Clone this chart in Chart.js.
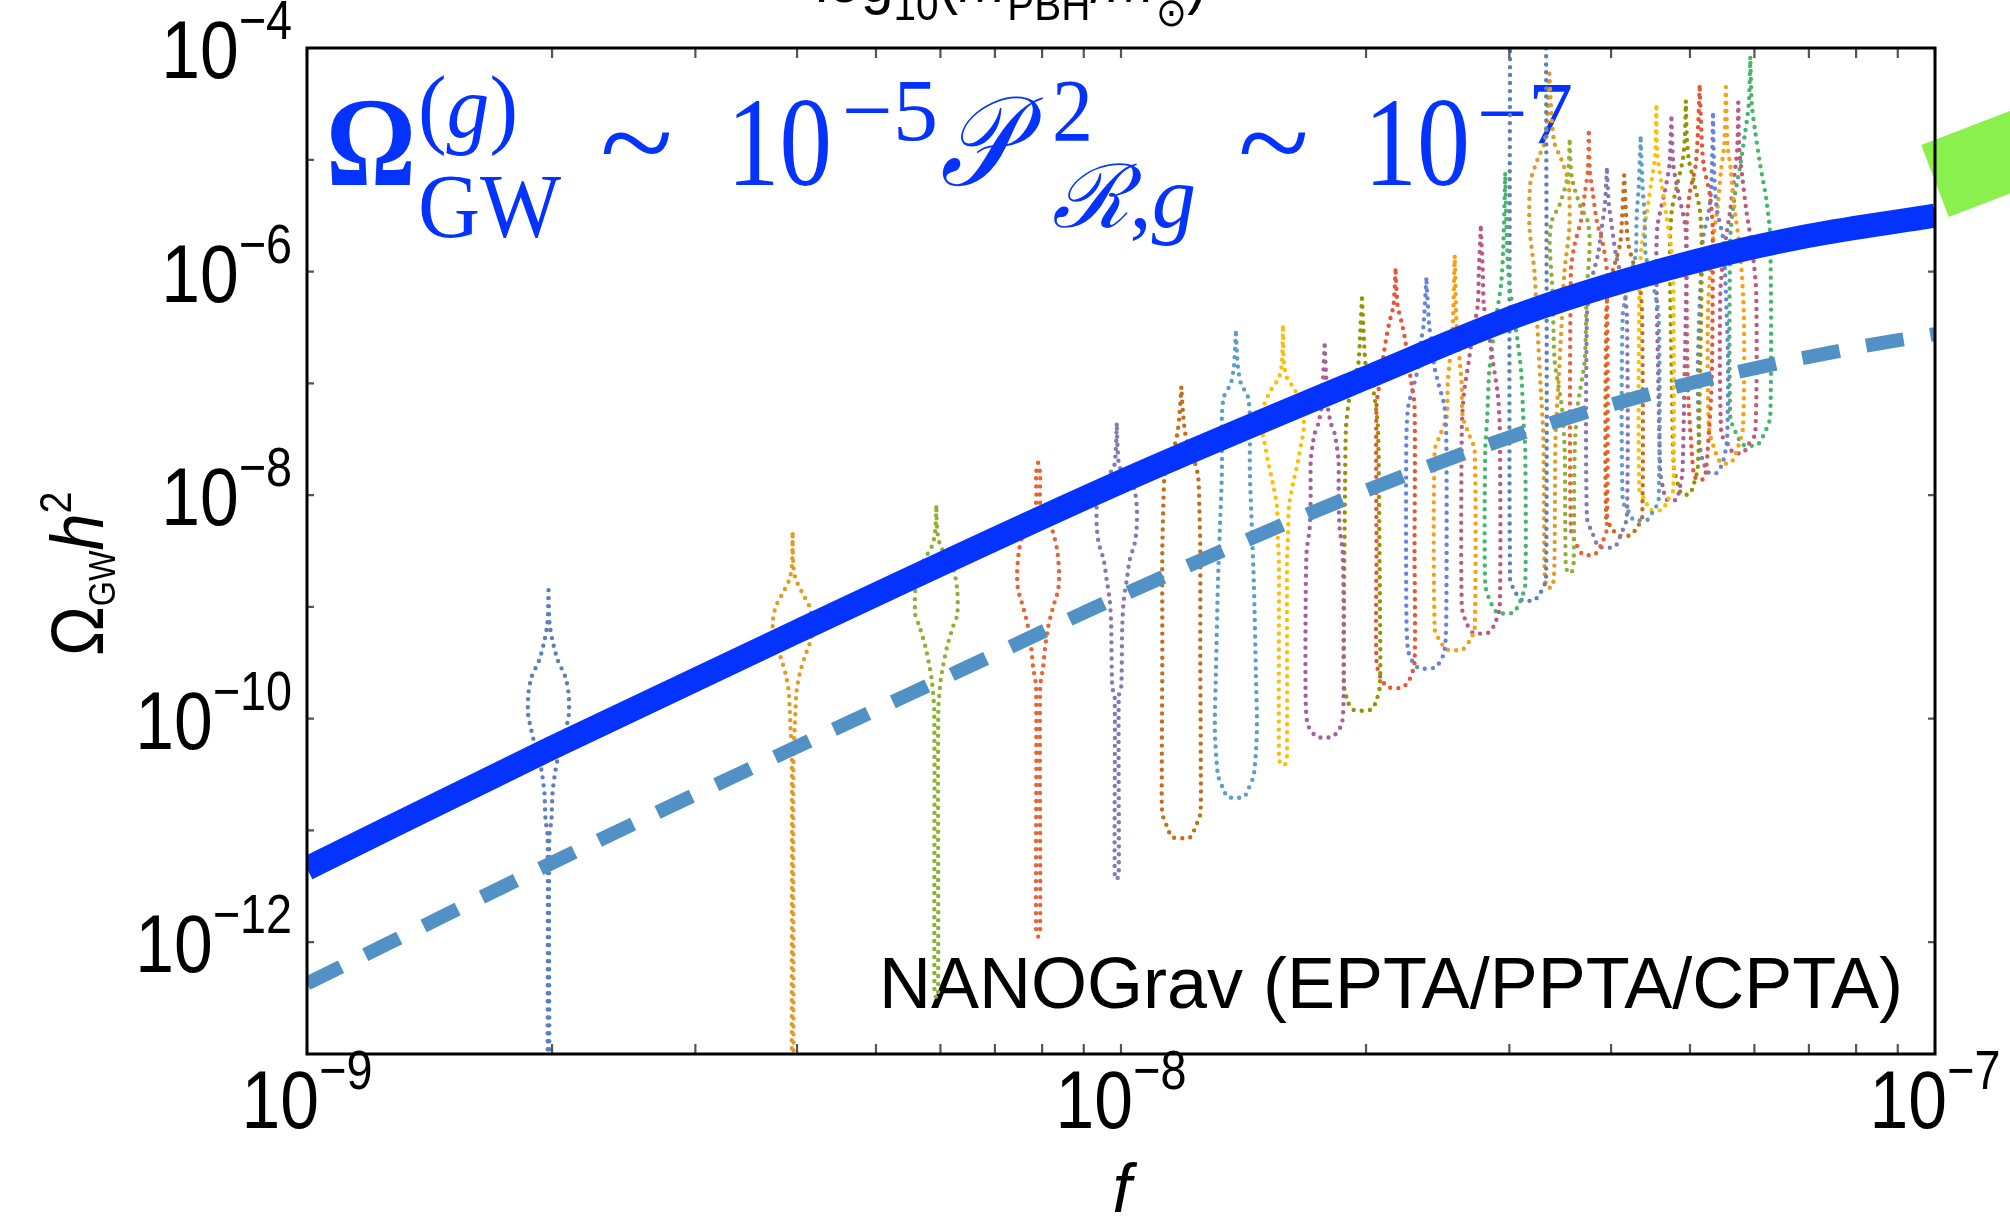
<!DOCTYPE html>
<html>
<head>
<meta charset="utf-8">
<script src="https://cdn.jsdelivr.net/npm/chart.js@4.4.0/dist/chart.umd.min.js"></script>
<style>
  html, body { margin: 0; padding: 0; background: #fff; }
  canvas { display: block; }
</style>
</head>
<body>
<canvas id="gwChart" width="2010" height="1216"></canvas>
<script>
// ---- model curves: frequency [Hz] and log10(Omega_GW h^2) ----
const curveFreqs = [1e-9, 2e-9, 4e-9, 1e-8, 2e-8, 3.16e-8, 5e-8, 7e-8, 1e-7];
const solidLogOmega = [-11.34, -10.26, -9.22, -7.88, -6.95, -6.36, -5.92, -5.68, -5.5];

const dashedFreqs = [1e-9, 2e-9, 4e-9, 6.3e-9, 1e-8, 2e-8, 3.4e-8, 5e-8, 8e-8, 1e-7];
const dashedLogOmega = [-12.37, -11.29, -10.25, -9.58, -8.9, -7.96, -7.35, -7.0, -6.68, -6.56];

// band entering from the right of the frame
const tailFreqs = [1.0e-7, 1.6e-7];
const tailLogOmega = [-5.19, -4.62];

// ---- NANOGrav free-spectrum bins ----
const binFreqs = [
  1.98e-9, 3.95e-9, 5.93e-9, 7.91e-9, 9.88e-9, 1.186e-8, 1.384e-8, 1.581e-8, 1.779e-8, 1.977e-8,
  2.174e-8, 2.372e-8, 2.570e-8, 2.767e-8, 2.965e-8, 3.163e-8, 3.360e-8, 3.558e-8, 3.756e-8, 3.953e-8,
  4.151e-8, 4.349e-8, 4.546e-8, 4.744e-8, 4.942e-8, 5.139e-8, 5.337e-8, 5.535e-8, 5.732e-8, 5.930e-8
];

// violin outline per bin: [log10 Omega, density] from top to bottom (density in arbitrary units)
const binProfiles = [
  [[-8.85,0],[-9.14,1],[-9.3,4],[-9.47,9],[-9.63,17],[-9.77,20],[-9.95,20.5],[-10.07,18],[-10.22,14],[-10.37,9],[-10.52,6],[-10.67,4],[-10.9,3],[-11.06,0.8],[-13.3,0.8],[-13.35,0]],
  [[-8.35,0],[-8.62,0.6],[-8.75,3],[-8.88,10],[-9.0,17],[-9.15,20],[-9.3,18],[-9.45,12],[-9.6,7],[-9.75,4],[-9.9,3],[-10.1,2],[-10.3,0.8],[-13.3,0.8],[-13.35,0]],
  [[-8.11,0],[-8.32,1],[-8.45,4],[-8.66,17],[-8.85,21],[-9.07,21],[-9.17,17],[-9.35,11],[-9.52,7],[-9.65,4.5],[-9.93,2],[-12.45,1.8],[-12.5,0]],
  [[-7.71,0],[-7.8,2],[-8.1,2.5],[-8.28,13],[-8.49,19],[-8.7,21],[-8.85,20],[-9.0,15],[-9.18,10],[-9.36,7],[-9.54,5],[-9.72,2],[-11.9,2],[-11.95,0]],
  [[-7.37,0],[-7.6,1],[-7.75,3],[-7.93,17],[-8.1,20],[-8.28,20],[-8.43,18],[-8.58,13],[-8.76,10],[-8.94,7],[-9.18,5.5],[-9.72,4.5],[-9.8,2],[-11.4,2],[-11.44,0]],
  [[-7.04,0],[-7.3,2],[-7.45,4],[-7.6,8],[-7.72,14],[-7.85,17],[-8.1,18],[-8.5,19],[-9.5,19],[-10.5,19.5],[-10.85,19],[-10.97,14],[-11.06,9]],
  [[-6.55,0],[-6.85,2],[-7.0,5],[-7.12,12],[-7.3,14],[-7.8,14],[-8.3,16],[-8.8,18],[-9.6,20],[-10.1,21],[-10.5,18],[-10.62,13],[-10.7,8]],
  [[-6.5,0],[-6.82,1],[-6.95,4],[-7.06,12],[-7.2,19],[-7.4,21],[-7.55,18],[-7.7,15],[-7.9,10],[-8.1,6],[-8.4,5],[-8.6,4],[-10.35,4],[-10.41,2]],
  [[-6.66,0],[-6.95,1.5],[-7.2,3],[-7.35,6],[-7.45,10],[-7.55,12],[-7.7,14],[-8.0,14],[-8.3,15],[-8.5,18],[-9.0,19],[-9.8,19],[-10.05,17],[-10.16,8]],
  [[-6.24,0],[-6.6,2],[-6.85,4],[-7.0,10],[-7.15,13],[-7.4,16],[-8.0,17],[-9.0,18],[-9.7,18],[-9.85,14],[-9.92,9]],
  [[-5.99,0],[-6.3,2],[-6.45,6],[-6.58,9],[-6.75,12],[-6.95,15],[-7.2,19],[-8.5,19],[-9.5,19],[-9.65,14],[-9.72,7]],
  [[-6.07,0],[-6.5,3],[-6.6,5],[-6.85,8],[-7.0,12],[-7.2,18],[-7.5,20],[-9.0,20],[-9.4,18],[-9.54,9]],
  [[-5.87,0],[-6.5,2],[-6.8,5],[-7.0,7],[-7.3,8],[-7.45,14],[-7.6,20],[-9.2,20],[-9.3,15],[-9.38,8]],
  [[-5.61,0],[-6.0,2],[-6.3,3],[-6.55,8],[-6.8,12],[-7.1,17],[-7.4,19],[-9.0,19],[-9.15,14],[-9.23,8]],
  [[-5.13,0],[-5.8,2],[-6.1,4],[-6.35,8],[-6.6,12],[-6.9,16],[-7.3,18],[-7.6,20],[-8.8,20],[-8.95,15],[-9.05,8]],
  [[-3.6,18],[-8.75,18],[-8.88,12],[-8.94,6]],
  [[-4.23,0],[-4.6,2],[-4.85,5],[-5.0,12],[-5.2,19],[-5.6,20],[-6.0,15],[-6.5,12],[-7.0,9],[-7.5,6],[-8.6,5],[-8.82,3]],
  [[-4.84,0],[-5.15,2],[-5.4,10],[-5.55,18],[-5.75,20],[-6.2,17],[-6.8,15],[-7.2,8],[-7.6,5],[-8.6,4],[-8.69,2]],
  [[-4.76,0],[-5.1,1],[-5.3,4],[-5.55,8],[-5.75,14],[-6.0,18],[-8.3,18],[-8.45,12],[-8.53,6]],
  [[-5.09,0],[-5.4,2],[-5.6,5],[-5.85,9],[-6.1,16],[-6.4,20],[-8.2,20],[-8.35,14],[-8.46,8]],
  [[-5.14,0],[-5.5,2],[-5.75,4],[-5.95,10],[-6.15,16],[-6.4,18],[-8.2,18],[-8.3,12],[-8.36,6]],
  [[-4.81,0],[-5.25,2],[-5.5,4],[-5.85,5],[-6.1,12],[-6.4,18],[-8.05,18],[-8.15,12],[-8.22,7]],
  [[-4.53,0],[-4.95,1],[-5.2,5],[-5.5,10],[-5.8,15],[-6.2,17],[-7.95,17],[-8.05,11],[-8.13,6]],
  [[-4.63,0],[-5.05,2],[-5.3,7],[-5.6,14],[-6.0,15],[-7.0,13],[-7.8,11],[-7.95,8],[-8.04,5]],
  [[-4.48,0],[-4.8,1],[-5.0,3],[-5.2,8],[-5.45,14],[-5.8,16],[-7.0,14],[-7.75,12],[-7.9,8],[-7.99,4]],
  [[-4.35,0],[-4.8,2],[-5.05,4],[-5.3,10],[-5.6,13],[-7.0,12],[-7.6,8],[-7.8,6],[-7.86,3]],
  [[-4.6,0],[-5.2,1.5],[-5.45,4],[-5.7,10],[-6.0,12],[-6.8,15],[-7.5,14],[-7.7,10],[-7.8,4]],
  [[-4.35,0],[-4.85,1.5],[-5.1,5],[-5.4,8],[-5.8,14],[-6.4,18],[-7.4,17],[-7.6,11],[-7.71,5]],
  [[-4.49,0],[-4.9,1],[-5.15,4],[-5.45,8],[-5.8,14],[-6.2,18],[-7.45,17],[-7.55,10],[-7.62,5]],
  [[-4.09,0],[-4.5,1.5],[-4.75,5],[-5.05,10],[-5.35,16],[-5.7,20],[-7.3,20],[-7.45,14],[-7.55,7]]
];

// ---- axis ticks ----
const xMajorTicks = [1e-9, 1e-8, 1e-7];
const xMinorTicks = [2e-9, 3e-9, 4e-9, 5e-9, 6e-9, 7e-9, 8e-9, 9e-9, 2e-8, 3e-8, 4e-8, 5e-8, 6e-8, 7e-8, 8e-8, 9e-8];
const xLabelExps = [-9, -8, -7];
const yDecadeTicks = [1e-13, 1e-12, 1e-11, 1e-10, 1e-9, 1e-8, 1e-7, 1e-6, 1e-5, 1e-4];
const yLabelExps = [-12, -10, -8, -6, -4];

// ---- styling ----
const palette = ['#5e81b5', '#e19c24', '#8fb032', '#eb6235', '#8778b3', '#c56e1a', '#5d9ec7', '#ffbf00',
                 '#a5609d', '#929600', '#e95536', '#6685d9', '#f89f13', '#bc5b80', '#47b66d'];
const BLUE = '#0433ff';
const SANS = "'Liberation Sans', Arial, sans-serif";
const SERIF = "'Liberation Serif', 'Times New Roman', serif";
const VIOLIN_DEX = 1 / 814;   // half-width in decades of f per density unit

const pts = (fs, ls) => fs.map((f, i) => ({ x: f, y: Math.pow(10, ls[i]) }));

function violinOutline(freq, profile) {
  const side = sgn => ([l, d]) => ({ x: freq * Math.pow(10, sgn * d * VIOLIN_DEX), y: Math.pow(10, l) });
  return profile.map(side(-1)).concat(profile.slice().reverse().map(side(1)));
}

const datasets = [
  {
    data: pts(curveFreqs, solidLogOmega),
    showLine: true, borderColor: BLUE, borderWidth: 24, pointRadius: 0,
    cubicInterpolationMode: 'monotone', borderCapStyle: 'butt', order: 0
  },
  {
    data: pts(dashedFreqs, dashedLogOmega),
    showLine: true, borderColor: '#5291c5', borderWidth: 14, pointRadius: 0,
    borderDash: [38, 27], cubicInterpolationMode: 'monotone', borderCapStyle: 'butt', order: 1
  },
  {
    data: pts(tailFreqs, tailLogOmega),
    showLine: true, borderColor: '#89f04d', borderWidth: 77, pointRadius: 0,
    borderCapStyle: 'butt', clip: false, order: 0
  }
];

binFreqs.forEach((f, i) => {
  datasets.push({
    data: violinOutline(f, binProfiles[i]),
    showLine: true, borderColor: palette[i % palette.length], borderWidth: 4.4,
    borderDash: [0, 8], borderCapStyle: 'round', pointRadius: 0, tension: 0.25,
    order: 2
  });
});

// text runs: [{t, size, style, dy}] drawn in sequence, squeezed horizontally by sx
function runWidth(ctx, parts, family) {
  return parts.reduce((w, p) => {
    ctx.font = (p.style || '') + ' ' + p.size + 'px ' + (p.family || family);
    return w + ctx.measureText(p.t).width;
  }, 0);
}

function drawRun(ctx, x, y, parts, family, sx, align) {
  const w = runWidth(ctx, parts, family) * sx;
  let cx = align === 'right' ? x - w : align === 'center' ? x - w / 2 : x;
  parts.forEach(p => {
    ctx.font = (p.style || '') + ' ' + p.size + 'px ' + (p.family || family);
    ctx.save();
    ctx.translate(cx, y + (p.dy || 0));
    ctx.scale(sx, 1);
    ctx.fillText(p.t, 0, 0);
    ctx.restore();
    cx += ctx.measureText(p.t).width * sx;
  });
}

// fit a run between x0 and x1
function fitRun(ctx, x0, x1, y, parts, family) {
  const sx = (x1 - x0) / runWidth(ctx, parts, family);
  drawRun(ctx, x0, y, parts, family, sx, 'left');
}

const annotation = {
  id: 'annotation',
  beforeDatasetsDraw(chart) {
    const ctx = chart.ctx;
    ctx.save();
    ctx.fillStyle = BLUE;
    ctx.textBaseline = 'alphabetic';
    fitRun(ctx, 326, 416, 185, [{ t: 'Ω', size: 126, style: 'bold' }], SERIF);
    fitRun(ctx, 418, 518, 137, [{ t: '(', size: 88 }, { t: 'g', size: 88, style: 'italic' }, { t: ')', size: 88 }], SERIF);
    fitRun(ctx, 418, 561, 237, [{ t: 'GW', size: 90 }], SERIF);
    fitRun(ctx, 600, 673, 185, [{ t: '~', size: 126 }], SERIF);
    fitRun(ctx, 727, 832, 185, [{ t: '10', size: 126 }], SERIF);
    fitRun(ctx, 842, 938, 140, [{ t: '−5', size: 88 }], SERIF);
    fitRun(ctx, 940, 1016, 185, [{ t: '𝒫', size: 126, style: 'italic' }], SERIF);
    fitRun(ctx, 1052, 1093, 140, [{ t: '2', size: 88 }], SERIF);
    fitRun(ctx, 1052, 1196, 227, [{ t: 'ℛ', size: 88, style: 'italic' }, { t: ',', size: 88 }, { t: 'g', size: 88, style: 'italic' }], SERIF);
    fitRun(ctx, 1238, 1309, 185, [{ t: '~', size: 126 }], SERIF);
    fitRun(ctx, 1364, 1470, 185, [{ t: '10', size: 126 }], SERIF);
    fitRun(ctx, 1477, 1573, 143, [{ t: '−7', size: 88 }], SERIF);

    ctx.fillStyle = '#000';
    drawRun(ctx, 1903, 1008, [{ t: 'NANOGrav (EPTA/PPTA/CPTA)', size: 72 }], SANS, 1, 'right');
    ctx.restore();
  }
};

const frame = {
  id: 'frame',
  afterDatasetsDraw(chart) {
    const ctx = chart.ctx;
    const { left, right, top, bottom } = chart.chartArea;
    const xs = chart.scales.x, ys = chart.scales.y;
    ctx.save();

    // tick marks, pointing into the frame
    ctx.strokeStyle = '#555';
    ctx.lineWidth = 2.2;
    ctx.beginPath();
    xMajorTicks.concat(xMinorTicks).forEach(v => {
      const px = xs.getPixelForValue(v);
      ctx.moveTo(px, bottom); ctx.lineTo(px, bottom - 10);
      ctx.moveTo(px, top); ctx.lineTo(px, top + 10);
    });
    yDecadeTicks.forEach(v => {
      const py = ys.getPixelForValue(v);
      ctx.moveTo(left, py); ctx.lineTo(left + 7, py);
    });
    yLabelExps.forEach(e => {
      const py = ys.getPixelForValue(Math.pow(10, e));
      ctx.moveTo(right, py); ctx.lineTo(right - 7, py);
    });
    ctx.stroke();

    ctx.strokeStyle = '#000';
    ctx.lineWidth = 3;
    ctx.strokeRect(left, top, right - left, bottom - top);

    // tick labels
    ctx.fillStyle = '#000';
    ctx.textBaseline = 'alphabetic';
    xLabelExps.forEach(e => {
      const px = xs.getPixelForValue(Math.pow(10, e));
      drawRun(ctx, px, 1128, [{ t: '10', size: 82 }, { t: '−' + Math.abs(e), size: 55, dy: -39 }], SANS, 0.85, 'center');
    });
    yLabelExps.forEach(e => {
      const py = ys.getPixelForValue(Math.pow(10, e));
      drawRun(ctx, 292, py + 30, [{ t: '10', size: 82 }, { t: '−' + Math.abs(e), size: 55, dy: -39 }], SANS, 0.85, 'right');
    });

    // x title
    drawRun(ctx, 1122, 1212, [{ t: 'f', size: 68, style: 'italic' }], SANS, 1, 'center');

    // y title, rotated
    ctx.save();
    ctx.translate(103, 656);
    ctx.rotate(-Math.PI / 2);
    drawRun(ctx, 0, 0, [
      { t: 'Ω', size: 74 }, { t: 'GW', size: 36, dy: 12 }, { t: 'h', size: 74, style: 'italic' }, { t: '2', size: 44, dy: -32 }
    ], SANS, 0.9, 'left');
    ctx.restore();

    // top frame label, mostly above the page
    drawRun(ctx, 815, 2, [
      { t: 'log', size: 64 }, { t: '10', size: 44, dy: 18 }, { t: '(', size: 64 }, { t: 'M', size: 64, style: 'italic' },
      { t: 'PBH', size: 44, dy: 18 }, { t: '/', size: 64 }, { t: 'M', size: 64, style: 'italic' },
      { t: '⊙', size: 40, dy: 24 }, { t: ')', size: 64 }
    ], SANS, 0.92, 'left');
    ctx.restore();
  }
};

new Chart(document.getElementById('gwChart').getContext('2d'), {
  type: 'scatter',
  data: { datasets },
  options: {
    responsive: false,
    animation: false,
    devicePixelRatio: 1,
    events: [],
    layout: { padding: { top: 48, right: 75, bottom: 0, left: 0 } },
    plugins: { legend: { display: false }, tooltip: { enabled: false } },
    scales: {
      x: {
        type: 'logarithmic', min: 1e-9, max: 1e-7,
        ticks: { display: false }, grid: { display: false }, border: { display: false },
        afterFit: s => { s.height = 162; }
      },
      y: {
        type: 'logarithmic', min: 1e-13, max: 1e-4,
        ticks: { display: false }, grid: { display: false }, border: { display: false },
        afterFit: s => { s.width = 307; }
      }
    }
  },
  plugins: [annotation, frame]
});
</script>
</body>
</html>
